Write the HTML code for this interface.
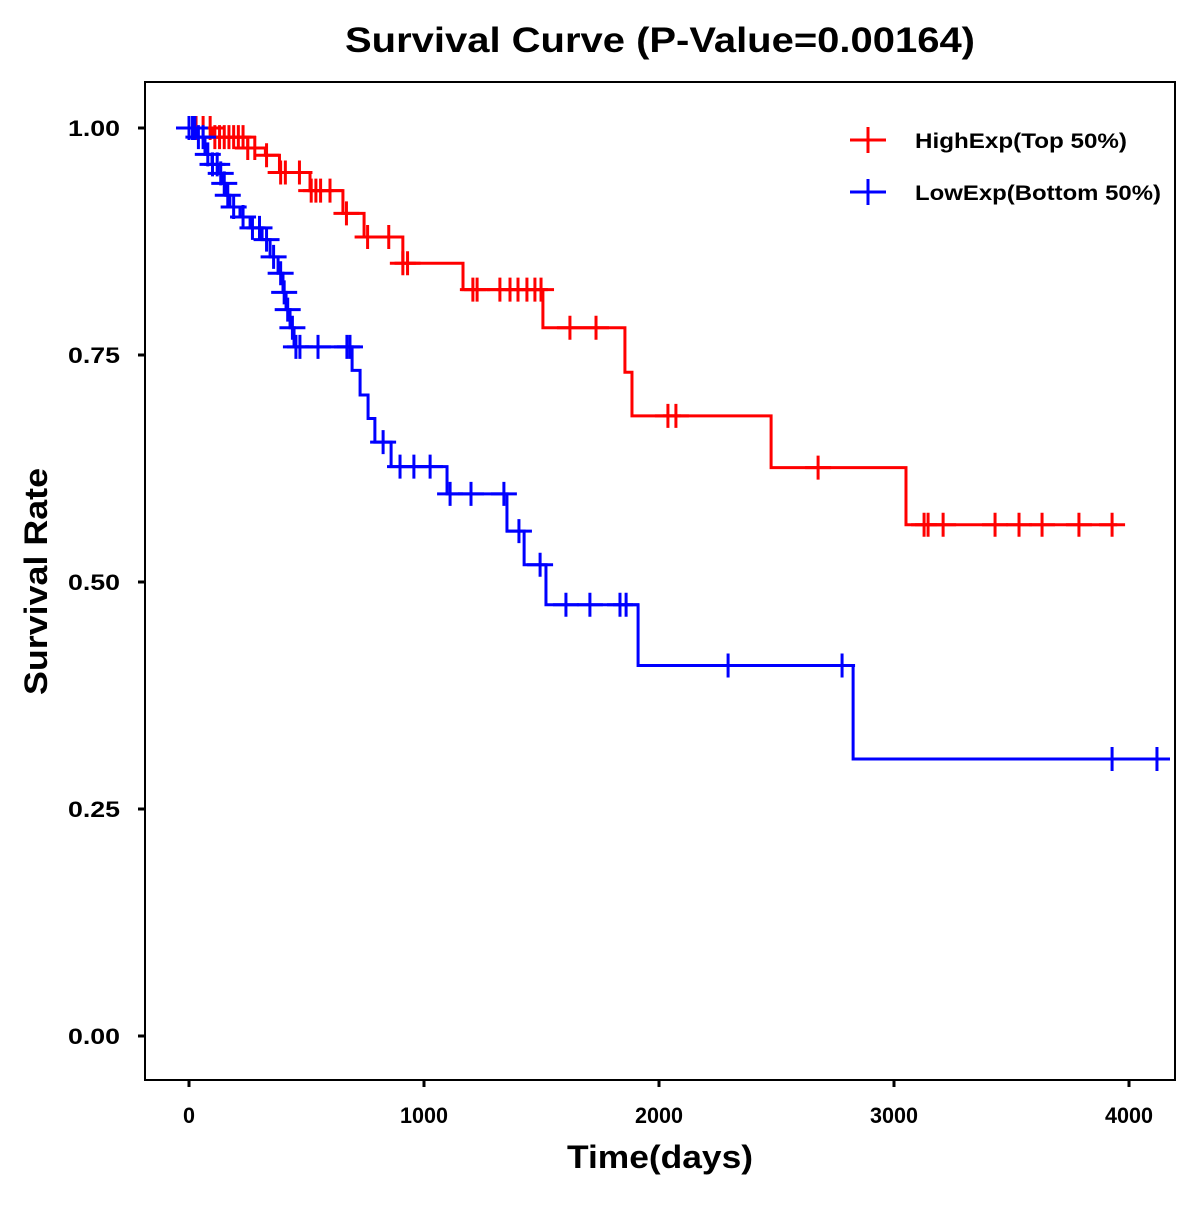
<!DOCTYPE html>
<html><head><meta charset="utf-8"><style>
html,body{margin:0;padding:0;background:#fff;}
svg text{font-family:"Liberation Sans",Arial,sans-serif;font-weight:bold;}
</style></head><body>
<svg id="chart" width="1200" height="1200" viewBox="0 0 1200 1200" xmlns="http://www.w3.org/2000/svg">
<rect width="1200" height="1200" fill="#fff"/>
<text x="345" y="52" font-size="35" textLength="630" lengthAdjust="spacingAndGlyphs">Survival Curve (P-Value=0.00164)</text>
<rect x="145" y="82" width="1030" height="998" fill="none" stroke="#000" stroke-width="2"/>
<text x="567" y="1168" font-size="32" textLength="186" lengthAdjust="spacingAndGlyphs">Time(days)</text>
<text transform="translate(47,695) rotate(-90)" font-size="32" textLength="227" lengthAdjust="spacingAndGlyphs">Survival Rate</text>
<g id="axes"></g>
<g id="series"></g>
<g>
<g>
<line x1="850" y1="140" x2="886" y2="140" stroke="#f00" stroke-width="3"/><line x1="868" y1="127" x2="868" y2="153" stroke="#f00" stroke-width="3"/>
<text x="915" y="148" font-size="21" textLength="212" lengthAdjust="spacingAndGlyphs">HighExp(Top 50%)</text></g>
<g>
<line x1="850" y1="192" x2="886" y2="192" stroke="#00f" stroke-width="3"/><line x1="868" y1="179" x2="868" y2="205" stroke="#00f" stroke-width="3"/>
<text x="915" y="200" font-size="21" textLength="246" lengthAdjust="spacingAndGlyphs">LowExp(Bottom 50%)</text></g>
</g>
</svg>
<script>
const xTicks=[0,1000,2000,3000,4000];
const yTicks=[0,0.25,0.5,0.75,1.0];
const yTickLabels=["0.00","0.25","0.50","0.75","1.00"];
const highTimes=[0,100,250,325,385,515,655,745,910,1166,1506,1855,1885,2477,3051];
const highSurv=[1,0.99,0.978,0.97,0.951,0.931,0.906,0.88,0.851,0.822,0.78,0.731,0.683,0.626,0.563];
const highEnd=3950;
const highCensorT=[30,60,90,110,130,150,170,190,210,230,250,280,330,390,410,470,520,540,560,600,670,760,850,910,930,1208,1226,1323,1366,1400,1438,1472,1498,1621,1732,2038,2072,2677,3128,3145,3209,3430,3532,3630,3787,3928];
const lowTimes=[0,34,68,98,123,140,157,174,217,260,311,345,379,400,413,430,447,694,728,762,791,860,1098,1353,1426,1519,1911,2826];
const lowSurv=[1,0.99,0.971,0.96,0.95,0.939,0.926,0.913,0.902,0.89,0.877,0.858,0.84,0.819,0.8,0.78,0.759,0.733,0.706,0.68,0.654,0.627,0.597,0.556,0.519,0.475,0.408,0.305];
const lowEnd=4174;
const lowCensorT=[0,15,25,40,60,80,100,120,135,150,165,190,230,270,300,330,360,390,405,420,440,455,472,549,672,685,826,898,957,1026,1111,1200,1340,1404,1494,1604,1706,1834,1860,2294,2779,3928,4119];
const NS="http://www.w3.org/2000/svg";
const X=d=>189+d*0.235;
const Y=s=>1036-s*908;
function mk(tag,attrs,parent){const e=document.createElementNS(NS,tag);for(const k in attrs)e.setAttribute(k,attrs[k]);parent.appendChild(e);return e;}
const axes=document.getElementById('axes');
xTicks.forEach(t=>{
 const l=mk('line',{x1:X(t),x2:X(t),y1:1080,y2:1087,stroke:'#000','stroke-width':3},axes);
 
 
 const lab=String(t);
 const tx=mk('text',{x:X(t),y:1123,'font-size':22,'text-anchor':'middle',textLength:lab.length*12,lengthAdjust:'spacingAndGlyphs'},axes);tx.textContent=lab;
 
 
});
yTicks.forEach((t,i)=>{
 const l=mk('line',{x1:138,x2:145,y1:Y(t),y2:Y(t),stroke:'#000','stroke-width':3},axes);
 
 
 const tx=mk('text',{x:68,y:Y(t)+8,'font-size':22,textLength:52,lengthAdjust:'spacingAndGlyphs'},axes);tx.textContent=yTickLabels[i];
 
 
});
function survAt(times,surv,t){let s=surv[0];for(let i=0;i<times.length;i++){if(times[i]<=t)s=surv[i];}return s;}
function draw(times,surv,end,cens,color,name){
 const g=mk('g',{},document.getElementById('series'));
 
 
 let d='M'+X(times[0])+','+Y(surv[0]);
 for(let i=1;i<times.length;i++){d+=' H'+X(times[i])+' V'+Y(surv[i]);}
 d+=' H'+X(end);
 const p=mk('path',{d:d,fill:'none',stroke:color,'stroke-width':3},g);
 
 
 cens.forEach(t=>{
  const s=survAt(times,surv,t);const cx=X(t),cy=Y(s);
  const c=mk('path',{d:`M${cx-13},${cy} H${cx+13} M${cx},${cy-12} V${cy+12}`,stroke:color,'stroke-width':3,fill:'none'},g);
  
  
 });
}
draw(highTimes,highSurv,highEnd,highCensorT,'#f00','high-exp-curve');
draw(lowTimes,lowSurv,lowEnd,lowCensorT,'#00f','low-exp-curve');
</script>
</body></html>
